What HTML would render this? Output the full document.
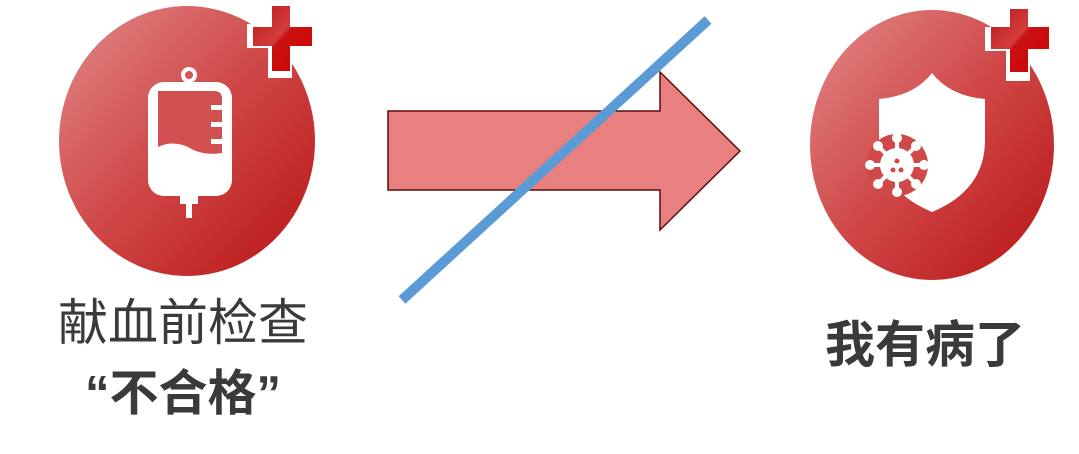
<!DOCTYPE html>
<html><head><meta charset="utf-8"><style>
html,body{margin:0;padding:0;background:#fff;}
body{width:1079px;height:454px;position:relative;overflow:hidden;font-family:"Liberation Sans","Noto Sans CJK SC",sans-serif;}
.t{position:absolute;color:#3a3a3a;white-space:nowrap;text-align:center;}
</style></head><body>
<svg width="1079" height="454" style="position:absolute;left:0;top:0">
<defs>
<linearGradient id="g" x1="0" y1="0" x2="1" y2="1">
<stop offset="0" stop-color="#e28a8a"/><stop offset="0.5" stop-color="#cf4646"/><stop offset="1" stop-color="#b81414"/>
</linearGradient>
<linearGradient id="c" x1="0" y1="0" x2="1" y2="1">
<stop offset="0" stop-color="#b81a1a"/><stop offset="0.45" stop-color="#d43c3c"/><stop offset="0.5" stop-color="#c81212"/><stop offset="1" stop-color="#d40000"/>
</linearGradient>
</defs>
<ellipse cx="187" cy="141" rx="128" ry="135" fill="url(#g)"/>
<ellipse cx="932" cy="145" rx="122" ry="135" fill="url(#g)"/>
<g transform="translate(250,6)">
<path d="M18 -3 H42 V18 H64 V42 H42 V72 H18 V42 H-3 V18 H18 Z" fill="#fff"/>
<path d="M22 0 H40 V21 H62 V40 H40 V65 H22 V40 H3 V21 H22 Z" fill="url(#c)"/>
</g>
<g transform="translate(988,9)">
<path d="M18 -3 H42 V18 H63 V42 H42 V72 H18 V42 H-3 V18 H18 Z" fill="#fff"/>
<path d="M22 0 H40 V18 H61 V40 H40 V63 H22 V40 H3 V18 H22 Z" fill="url(#c)"/>
</g>
<circle cx="189" cy="75" r="6" fill="none" stroke="#fff" stroke-width="4"/>
<rect x="148" y="82" width="84" height="114" rx="16" fill="#fff"/>
<path d="M158 91 H214 Q222 91 222 99 V153 Q202 156 188 147 Q172 140 158 147 Z" fill="#d25050"/>
<rect x="211" y="105" width="12" height="5" fill="#fff"/><rect x="211" y="122" width="12" height="5" fill="#fff"/><rect x="211" y="139" width="12" height="5" fill="#fff"/>
<rect x="180" y="194" width="18" height="10" fill="#fff"/>
<rect x="186" y="203" width="6" height="15" fill="#fff"/>
<path d="M932 73 Q914 96 879 99 V140 Q879 190 932 212 Q985 190 985 140 V99 Q950 96 932 73 Z" fill="#fff"/>
<g transform="translate(897,165)">
<circle r="31" fill="#d04848"/>
<g stroke="#fff" stroke-width="4" stroke-linecap="round">
<line x1="0" y1="0" x2="0" y2="-26"/><line x1="0" y1="0" x2="0" y2="26"/><line x1="0" y1="0" x2="-26" y2="0"/><line x1="0" y1="0" x2="26" y2="0"/>
<line x1="0" y1="0" x2="19" y2="-19"/><line x1="0" y1="0" x2="-19" y2="-19"/><line x1="0" y1="0" x2="19" y2="19"/><line x1="0" y1="0" x2="-19" y2="19"/>
</g>
<circle r="17" fill="#fff"/>
<g fill="#fff"><circle cx="0" cy="-27" r="5"/><circle cx="0" cy="27" r="5"/><circle cx="-27" cy="0" r="5"/><circle cx="27" cy="0" r="5"/><circle cx="-19" cy="-19" r="5"/><circle cx="19" cy="-19" r="5"/><circle cx="-19" cy="19" r="5"/><circle cx="19" cy="19" r="5"/></g>
<circle cx="0" cy="-4" r="2.5" fill="#d04848"/><circle cx="-4" cy="5" r="2.5" fill="#d04848"/><circle cx="4" cy="5" r="2.5" fill="#d04848"/>
</g>
<path d="M388 111 H660 V72 L740 151 L660 230 V190 H388 Z" fill="#e88080" stroke="#5a0c0c" stroke-width="1.5"/>
<line x1="402" y1="300" x2="708" y2="20" stroke="#5b9bd5" stroke-width="10"/>
</svg>
<div class="t" style="left:33px;top:292px;width:300px;font-size:50px;line-height:62px;">献血前检查</div>
<div class="t" style="left:33px;top:363px;width:300px;font-size:49px;line-height:62px;font-weight:bold;">“不合格”</div>
<div class="t" style="left:775px;top:314px;width:300px;font-size:50px;line-height:62px;font-weight:bold;">我有病了</div>
</body></html>
